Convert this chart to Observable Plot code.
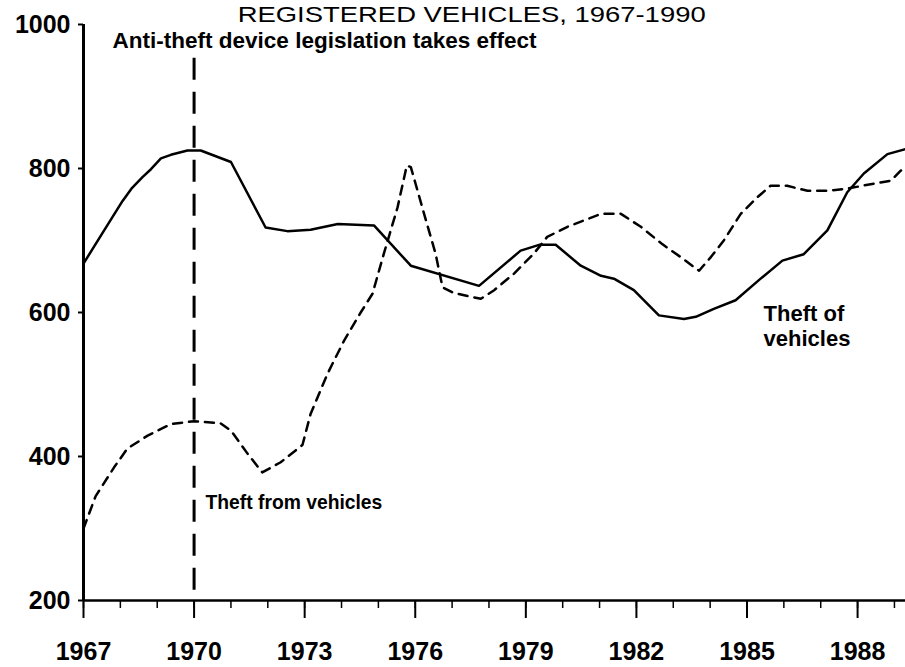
<!DOCTYPE html>
<html><head><meta charset="utf-8">
<script src="https://cdn.jsdelivr.net/npm/d3@7"></script>
<script src="https://cdn.jsdelivr.net/npm/@observablehq/plot@0.6"></script>
<style>
html,body{margin:0;padding:0;background:#fff;}
#chart{width:905px;height:667px;overflow:hidden;}
</style></head><body><div id="chart"></div>
<script>
const title = "REGISTERED VEHICLES, 1967-1990";
const eventLabel = "Anti-theft device legislation takes effect";
const theftOfLabel = "Theft of\nvehicles";
const theftFromLabel = "Theft from vehicles";
const eventYear = [1970];

const theftOfYears = [1967.0, 1967.56, 1968.06, 1968.3, 1968.6, 1968.83, 1969.1, 1969.37, 1969.82, 1970.18, 1971.0, 1971.94, 1972.53, 1973.16, 1973.9, 1974.88, 1975.88, 1977.73, 1978.86, 1979.36, 1979.81, 1980.49, 1981.04, 1981.39, 1981.93, 1982.61, 1983.29, 1983.61, 1984.1, 1984.69, 1985.37, 1985.96, 1986.54, 1987.18, 1987.72, 1988.17, 1988.81, 1989.3];
const theftOfValues = [668, 714, 755, 772, 788, 799, 814, 819, 825, 825, 809, 718, 713, 715, 723, 721, 665, 637, 686, 694, 694, 665, 651, 647, 631, 596, 591, 594, 605, 617, 647, 672, 681, 714, 767, 793, 820, 827];

const theftFromYears = [1967.0, 1967.33, 1967.83, 1968.19, 1968.74, 1969.37, 1970.0, 1970.72, 1971.0, 1971.45, 1971.85, 1972.35, 1972.94, 1973.16, 1973.62, 1974.07, 1974.52, 1974.84, 1975.15, 1975.52, 1975.77, 1975.88, 1976.24, 1976.55, 1976.74, 1977.05, 1977.78, 1978.14, 1978.68, 1979.22, 1979.58, 1980.13, 1981.04, 1981.58, 1982.12, 1982.7, 1983.2, 1983.7, 1984.02, 1984.37, 1984.83, 1985.28, 1985.64, 1986.09, 1986.64, 1987.18, 1987.72, 1988.44, 1988.9, 1989.17, 1989.3];
const theftFromValues = [300, 345, 385, 411, 429, 445, 449, 446, 436, 404, 378, 392, 416, 459, 515, 561, 600, 626, 682, 746, 804, 802, 737, 682, 635, 627, 619, 631, 654, 682, 705, 719, 737, 737, 719, 695, 677, 658, 677, 700, 737, 760, 776, 776, 769, 769, 772, 779, 783, 797, 800];

const yTicks = [200, 400, 600, 800, 1000];
const xMajorTicks = [1967, 1970, 1973, 1976, 1979, 1982, 1985, 1988];
const xMinorTicks = [1967, 1968, 1969, 1970, 1971, 1972, 1973, 1974, 1975, 1976, 1977, 1978, 1979, 1980, 1981, 1982, 1983, 1984, 1985, 1986, 1987, 1988, 1989];

const theftOf = theftOfYears.map((year, i) => ({year, value: theftOfValues[i]}));
const theftFrom = theftFromYears.map((year, i) => ({year, value: theftFromValues[i]}));

const font = "'Liberation Sans', Arial, Helvetica, sans-serif";

const plot = Plot.plot({
  width: 905, height: 667,
  marginLeft: 83, marginRight: 0, marginTop: 24, marginBottom: 67,
  style: {fontFamily: font, background: "#fff", color: "#000"},
  x: {domain: [1967, 1989.3], axis: null},
  y: {domain: [200, 1000], axis: null},
  marks: [
    Plot.axisY({ticks: yTicks, tickSize: 5, tickPadding: 8, fontSize: 25, fontWeight: "bold", strokeWidth: 2, label: null, tickFormat: d => String(d)}),
    Plot.axisX({ticks: xMinorTicks, tickSize: 8, strokeWidth: 1.5, label: null, tickFormat: () => ""}),
    Plot.axisX({ticks: xMajorTicks, tickSize: 18, tickPadding: 24, fontSize: 25, fontWeight: "bold", strokeWidth: 2, label: null, tickFormat: d => String(d)}),
    Plot.ruleY([200], {strokeWidth: 2.5}),
    Plot.ruleX([1967], {strokeWidth: 3}),
    Plot.ruleX(eventYear, {y1: 953, y2: 200, strokeWidth: 3, strokeDasharray: "22,12"}),
    Plot.line(theftOf, {x: "year", y: "value", strokeWidth: 2.5, curve: "linear"}),
    Plot.line(theftFrom, {x: "year", y: "value", strokeWidth: 2.5, strokeDasharray: "9,7"}),
    Plot.text([eventLabel], {x: 1967.79, y: 989, text: d => d, textAnchor: "start", lineAnchor: "top", fontSize: 22.5, fontWeight: "bold"}),
    Plot.text([theftFromLabel], {x: 1970.31, y: 346, text: d => d, textAnchor: "start", lineAnchor: "top", fontSize: 19.3, fontWeight: "bold"}),
    Plot.text([theftOfLabel], {x: 1985.45, y: 612.5, text: d => d, textAnchor: "start", lineAnchor: "top", fontSize: 22, fontWeight: "bold", lineHeight: 1.14}),
    Plot.text([title], {x: 1977.53, y: 1025.8, text: d => d, textAnchor: "middle", lineAnchor: "top", fontSize: 22})
  ]
});

d3.select(plot).selectAll("text").filter(function() { return this.textContent === title; })
  .attr("textLength", 468).attr("lengthAdjust", "spacingAndGlyphs");

document.getElementById("chart").appendChild(plot);
</script>
</body></html>
